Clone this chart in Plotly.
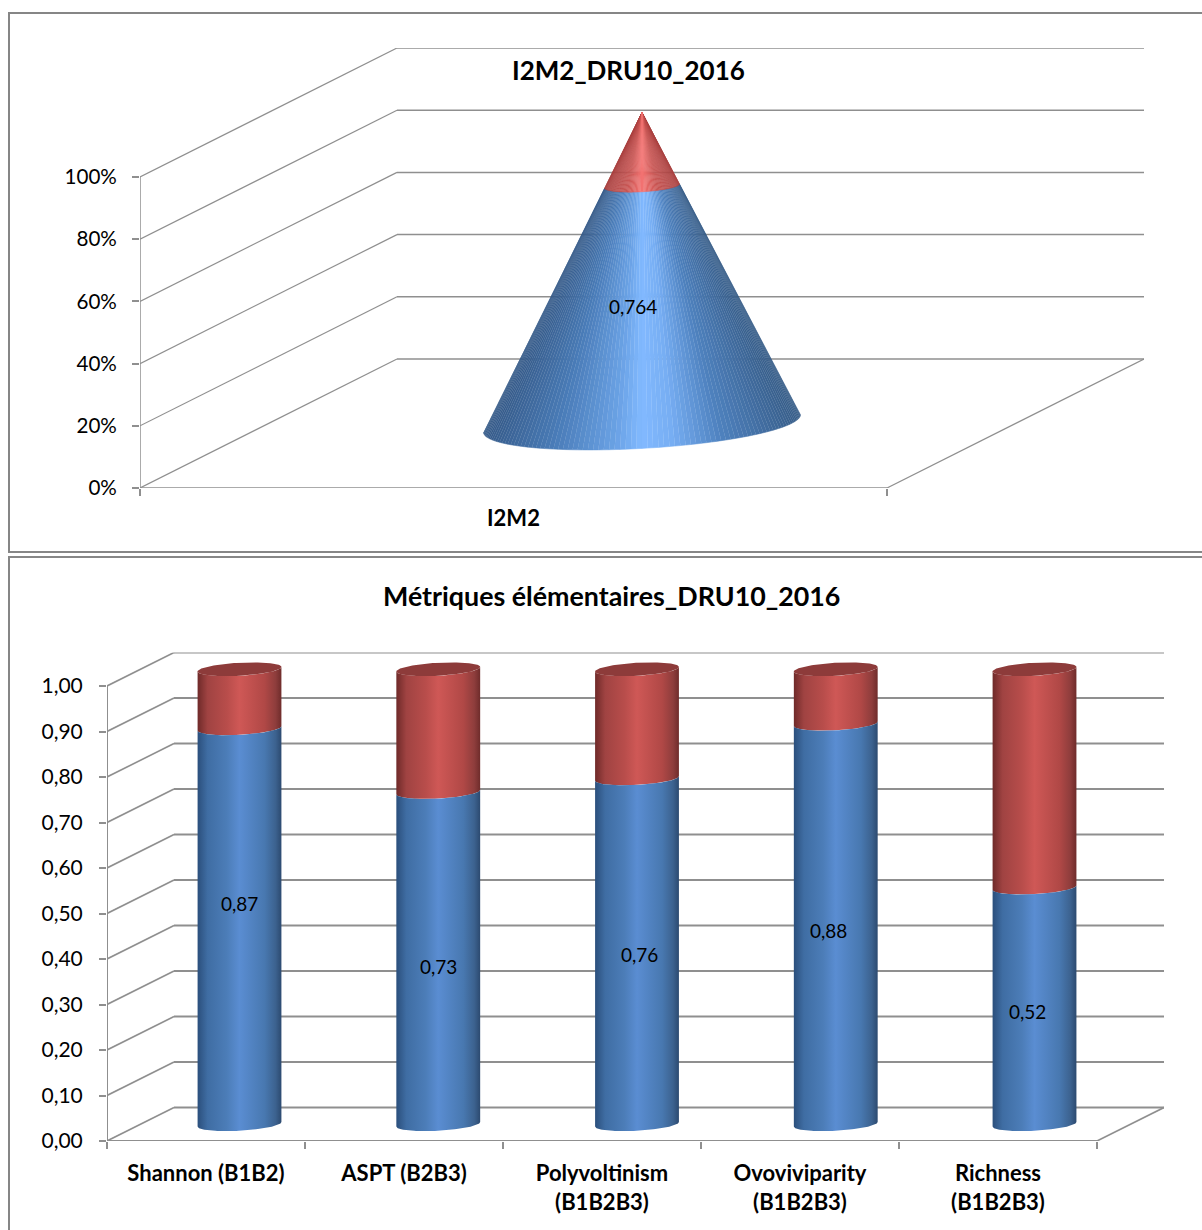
import numpy as np
import plotly.graph_objects as go

# Index panel
index_categories = ["I2M2"]
index_values = [0.764]
index_ticks = [0, 0.2, 0.4, 0.6, 0.8, 1.0]
index_tick_labels = ["0%", "20%", "40%", "60%", "80%", "100%"]
index_value_labels = ["0,764"]
index_title = "I2M2_DRU10_2016"

# Elementary metrics panel
metric_categories = ["Shannon (B1B2)", "ASPT (B2B3)", "Polyvoltinism<br>(B1B2B3)",
                     "Ovoviviparity<br>(B1B2B3)", "Richness<br>(B1B2B3)"]
metric_values = [0.87, 0.73, 0.76, 0.88, 0.52]
metric_ticks = [0, 0.1, 0.2, 0.3, 0.4, 0.5, 0.6, 0.7, 0.8, 0.9, 1.0]
metric_tick_labels = ["0,00", "0,10", "0,20", "0,30", "0,40", "0,50",
                      "0,60", "0,70", "0,80", "0,90", "1,00"]
metric_value_labels = ["0,87", "0,73", "0,76", "0,88", "0,52"]
metric_label_shift_x = [0, 0, 2, -7, -7]
metric_label_shift_y = [23, -8, -3, -6, -6]
metric_title = "Métriques élémentaires_DRU10_2016"

W, H = 1202, 1230
FONT = "Lato"
GRID = "#8f8f8f"
FRAME = "#868686"

BLUE_CONE = [[0, "#355a88"], [0.22, "#4a7cb8"], [0.42, "#6ba3e6"], [0.5, "#82b9ff"],
             [0.6, "#76adf2"], [0.75, "#4f82bf"], [1, "#375d88"]]
RED_CONE = [[0, "#a8403f"], [0.3, "#c85452"], [0.5, "#f47372"], [0.7, "#c85452"], [1, "#a8403f"]]
BLUE_CYL = [[0, "#2b4f7c"], [0.12, "#3f6da3"], [0.35, "#4c7db8"], [0.5, "#5a8dd2"],
            [0.8, "#4878b0"], [0.93, "#3c628f"], [1, "#2c4a70"]]
RED_CYL = [[0, "#6f2a29"], [0.12, "#a04342"], [0.35, "#b84d4b"], [0.5, "#cf5856"],
           [0.8, "#b04846"], [0.93, "#8e3d3c"], [1, "#6f2c2b"]]
RED_TOP = "#8d3b3a"

# Pixel frame of each panel: front origin, front end, value scale, receding depth
TOP = dict(x0=140, x1=887, y0=488, y1=177, dpx=257, dpy=129, n=1)
BOT = dict(x0=107, x1=1097, y0=1141, y1=686, dpx=67, dpy=33.5, n=5)

RADIUS = 0.2        # footprint radius along the category axis
DEPTH = 0.205       # footprint radius along the depth axis
CONE_FACETS = 90    # shaded facets around the visible half of the cone
MID_STRETCH = 1.0038  # category spacing at mid depth relative to the front edge


def panel_axes(p):
    """Depth vector in axis units plus the axis ranges and domains."""
    ux = (p["x1"] - p["x0"]) / p["n"]
    uy = p["y0"] - p["y1"]
    dx, dy = p["dpx"] / ux, p["dpy"] / uy
    return dict(
        dx=dx, dy=dy,
        xrange=[0, p["n"] + dx], yrange=[0, 1 + dy],
        xdomain=[p["x0"] / W, (p["x1"] + p["dpx"]) / W],
        ydomain=[1 - p["y0"] / H, 1 - (p["y1"] - p["dpy"]) / H],
    )


A = panel_axes(TOP)
B = panel_axes(BOT)

fig = go.Figure()


def sample_scale(scale, f):
    """Colour of a stop list at fraction f."""
    stops = [s[0] for s in scale]
    rgb = np.array([[int(s[1][i:i + 2], 16) for i in (1, 3, 5)] for s in scale], dtype=float)
    vals = [np.interp(f, stops, rgb[:, c]) for c in range(3)]
    return "rgb({:.0f},{:.0f},{:.0f})".format(*vals)


def add_line(xs, ys, axes, width):
    fig.add_trace(go.Scatter(x=xs, y=ys, mode="lines", xaxis=axes[0], yaxis=axes[1],
                             line=dict(color=GRID, width=width), hoverinfo="skip", showlegend=False))


def add_walls(ticks, n, g, axes, hw, dw):
    for v in ticks:
        add_line([0, g["dx"]], [v, v + g["dy"]], axes, dw)
        add_line([g["dx"], n + g["dx"]], [v + g["dy"], v + g["dy"]], axes, hw)
    add_line([0, 0], [0, 1], axes, hw)
    add_line([0, n], [0, 0], axes, hw)
    add_line([n, n + g["dx"]], [0, g["dy"]], axes, dw)


def add_fill(xs, ys, axes, scale=None, color=None, seam=0):
    if scale:
        kw = dict(fillgradient=dict(type="horizontal", colorscale=scale), line=dict(width=0))
    else:
        kw = dict(fillcolor=color, line=dict(width=seam, color=color))
    fig.add_trace(go.Scatter(x=xs, y=ys, mode="lines", fill="toself",
                             xaxis=axes[0], yaxis=axes[1], hoverinfo="skip", showlegend=False, **kw))


def front_arc(cx, cy, g, scale=1.0, count=60):
    """Near half of a circular footprint, left extreme to right extreme."""
    t_r = np.arctan2(DEPTH * g["dx"], RADIUS)
    t = np.linspace(np.pi + t_r, 2 * np.pi + t_r, count)
    return (cx + scale * (RADIUS * np.cos(t) + DEPTH * g["dx"] * np.sin(t)),
            cy + scale * DEPTH * g["dy"] * np.sin(t))


def add_cone(i, v, g, axes):
    """Cone split at v, drawn as facets so the shading converges on the apex."""
    cx = i + 0.5 + 0.5 * g["dx"]
    base = 0.5 * g["dy"]
    ax, ay = front_arc(cx, base, g, count=CONE_FACETS + 1)
    sx, sy = front_arc(cx, base + v, g, 1 - v, count=CONE_FACETS + 1)
    span = ax[-1] - ax[0]
    fracs = [(0.5 * (ax[k] + ax[k + 1]) - ax[0]) / span for k in range(CONE_FACETS)]
    # outer facets first, so the highlight stays on top where the facets converge
    order = sorted(range(CONE_FACETS), key=lambda k: -abs(fracs[k] - 0.5))
    for k in order:
        add_fill([ax[k], ax[k + 1], sx[k + 1], sx[k]], [ay[k], ay[k + 1], sy[k + 1], sy[k]],
                 axes, color=sample_scale(BLUE_CONE, fracs[k]), seam=0.5)
    for k in order:
        add_fill([sx[k], sx[k + 1], cx], [sy[k], sy[k + 1], base + 1],
                 axes, color=sample_scale(RED_CONE, fracs[k]), seam=0.5)


def category_centre(i, g):
    return i * MID_STRETCH + 0.5 + 0.5 * g["dx"]


def add_cylinder(i, v, g, axes):
    cx = category_centre(i, g)
    base = 0.5 * g["dy"]
    ax, ay = front_arc(cx, base, g)
    mx, my = front_arc(cx, base + v, g)
    tx, ty = front_arc(cx, base + 1, g)
    add_fill(np.r_[mx, tx[::-1]], np.r_[my, ty[::-1]], axes, RED_CYL)
    add_fill(np.r_[ax, mx[::-1]], np.r_[ay, my[::-1]], axes, BLUE_CYL)
    # lid: near arc plus the far arc mirrored through the centre
    add_fill(np.r_[tx, 2 * cx - tx], np.r_[ty, 2 * (base + 1) - ty], axes, color=RED_TOP)


add_walls(index_ticks, TOP["n"], A, ("x", "y"), 1.5, 1.2)
add_walls(metric_ticks, BOT["n"], B, ("x2", "y2"), 2, 1.6)

for i, v in enumerate(index_values):
    add_cone(i, v, A, ("x", "y"))
for i, v in enumerate(metric_values):
    add_cylinder(i, v, B, ("x2", "y2"))

annotations = [
    dict(text=index_title, x=628 / W, y=1 - 70 / H, xref="paper", yref="paper", showarrow=False,
         xanchor="center", yanchor="middle",
         font=dict(family=FONT, size=26, color="black", weight=700)),
    dict(text=metric_title, x=611 / W, y=1 - 596 / H, xref="paper", yref="paper", showarrow=False,
         xanchor="center", yanchor="middle",
         font=dict(family=FONT, size=26.8, color="black", weight=700)),
]
for i, (v, s) in enumerate(zip(index_values, index_value_labels)):
    annotations.append(dict(text=s, x=i + 0.5 + 0.5 * A["dx"], y=0.5 * A["dy"] + v / 2, xref="x", yref="y",
                            xshift=-9, yshift=-2, showarrow=False, xanchor="center", yanchor="middle",
                            font=dict(family=FONT, size=19, color="black")))
for i, (v, s) in enumerate(zip(metric_values, metric_value_labels)):
    annotations.append(dict(text=s, x=category_centre(i, B), y=0.5 * B["dy"] + v / 2,
                            xref="x2", yref="y2",
                            xshift=metric_label_shift_x[i], yshift=metric_label_shift_y[i], showarrow=False,
                            xanchor="center", yanchor="middle",
                            font=dict(family=FONT, size=19, color="black")))


def frame(x0, y0, x1, y1):
    return dict(type="rect", xref="paper", yref="paper", layer="below",
                x0=x0 / W, x1=x1 / W, y0=1 - y0 / H, y1=1 - y1 / H,
                line=dict(color=FRAME, width=2), fillcolor="white")


def x_axis(g, anchor, vals, text, edges, size, standoff):
    return dict(domain=g["xdomain"], range=g["xrange"], anchor=anchor, showgrid=False, zeroline=False,
                automargin=False, showline=False, tickmode="array", tickvals=vals, ticktext=text, ticks="",
                ticklabelstandoff=standoff,
                tickfont=dict(family=FONT, size=size, color="black", weight=700),
                minor=dict(tickmode="array", tickvals=edges, ticks="outside", ticklen=7,
                           tickcolor=GRID, tickwidth=1.5, showgrid=False))


def y_axis(g, anchor, vals, text, standoff, size):
    return dict(domain=g["ydomain"], range=g["yrange"], anchor=anchor, showgrid=False, zeroline=False,
                automargin=False, showline=False, tickmode="array", tickvals=vals, ticktext=text,
                ticks="outside", ticklen=7, tickcolor=GRID, tickwidth=1.5, ticklabelstandoff=standoff,
                tickfont=dict(family=FONT, size=size, color="black"))


fig.update_layout(
    width=W, height=H, margin=dict(l=0, r=0, t=0, b=0, pad=0),
    paper_bgcolor="white", plot_bgcolor="rgba(0,0,0,0)", showlegend=False,
    font=dict(family=FONT, color="black"),
    shapes=[frame(9, 13, 1215, 552), frame(9, 557, 1215, 1245)],
    annotations=annotations,
    xaxis=x_axis(A, "y", [0.5], index_categories, [0, 1], 22, 15),
    yaxis=y_axis(A, "x", index_ticks, index_tick_labels, 11, 20.6),
    xaxis2=x_axis(B, "y2", [i + 0.5 for i in range(5)], metric_categories, [0, 1, 2, 3, 4, 5], 22, 17),
    yaxis2=y_axis(B, "x2", metric_ticks, metric_tick_labels, 12, 21),
)

fig.write_html("out.html")
